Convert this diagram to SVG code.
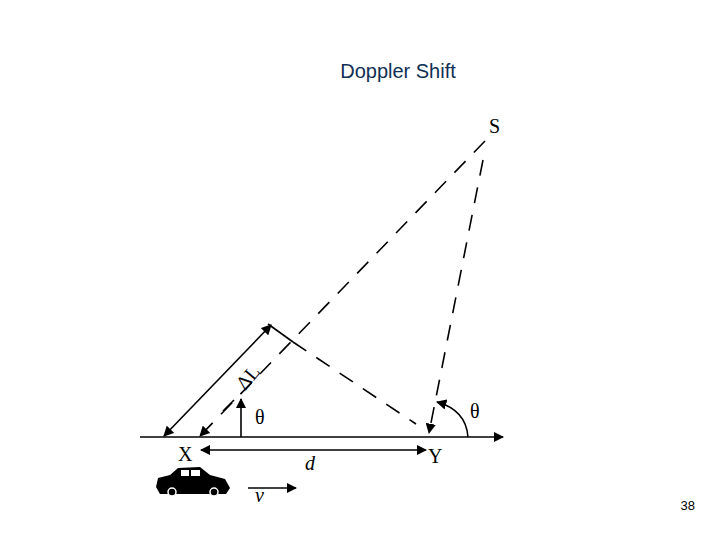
<svg xmlns="http://www.w3.org/2000/svg" width="720" height="540" viewBox="0 0 720 540">
<defs>
<marker id="ah" viewBox="0 0 10 10" refX="9" refY="5" markerWidth="6.5" markerHeight="6.5" orient="auto-start-reverse"><path d="M0,0 L10,5 L0,10 z" fill="#000"/></marker>
</defs>
<style>
.l{stroke:#000;stroke-width:1.6;fill:none}
.d{stroke:#000;stroke-width:1.6;fill:none;stroke-dasharray:16,12}
.t{font-family:"Liberation Serif",serif;font-size:20px;fill:#000}
</style>
<rect width="720" height="540" fill="#fff"/>
<text x="398" y="78" text-anchor="middle" font-family="Liberation Sans,sans-serif" font-size="20" fill="#0f2f55">Doppler Shift</text>
<g id="connectors">
<line class="l" x1="140" y1="437" x2="503" y2="437" marker-end="url(#ah)"/>
<line class="d" x1="485" y1="141" x2="200" y2="436" marker-end="url(#ah)"/>
<line class="d" x1="483" y1="160" x2="429" y2="433" marker-end="url(#ah)"/>
<line class="d" x1="293" y1="342" x2="416" y2="424"/>
<line class="l" x1="268" y1="324" x2="293" y2="342"/>
<line class="l" x1="164" y1="436" x2="271" y2="325" marker-start="url(#ah)" marker-end="url(#ah)"/>
<line class="l" x1="241" y1="437" x2="241" y2="399" marker-end="url(#ah)"/>
<line class="l" x1="223" y1="411" x2="234" y2="400"/>
<path class="l" d="M468,437 Q466,410 437,402" marker-end="url(#ah)"/>
<line class="l" x1="201" y1="450" x2="426" y2="450" marker-start="url(#ah)" marker-end="url(#ah)"/>
<line class="l" x1="248" y1="488" x2="296" y2="488" marker-end="url(#ah)"/>
</g>
<g id="car">
<path d="M156,487 L158,478 L170,475 L178,468 L200,467 L210,475 L225,479 L230,488 L226,494 L160,494 Z" fill="#000"/>
<rect x="181" y="470" width="8" height="6" fill="#fff"/>
<rect x="191" y="470" width="9" height="6" fill="#fff"/>
<circle cx="172" cy="492" r="4" fill="#000" stroke="#fff" stroke-width="1.5"/>
<circle cx="214" cy="492" r="4" fill="#000" stroke="#fff" stroke-width="1.5"/>
</g>
<g id="labels">
<text class="t" x="489" y="133">S</text>
<text class="t" x="178" y="461">X</text>
<text class="t" x="428" y="463">Y</text>
<text class="t" x="255" y="424">θ</text>
<text class="t" x="470" y="418">θ</text>
<text class="t" x="305" y="470" font-style="italic">d</text>
<text class="t" x="255" y="502" font-style="italic">v</text>
<text class="t" x="236" y="388" transform="rotate(-50 244 380)">ΔL</text>
<text x="695" y="510" text-anchor="end" font-family="Liberation Sans,sans-serif" font-size="13" fill="#000">38</text>
</g>
</svg>
